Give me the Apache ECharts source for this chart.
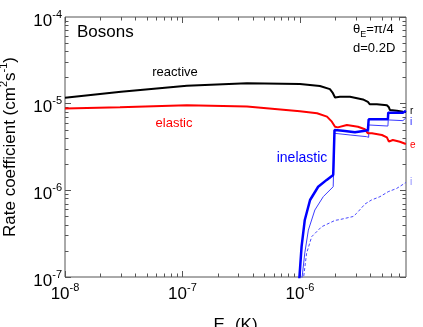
<!DOCTYPE html>
<html>
<head>
    <meta charset="UTF-8">
    <title>Rate coefficient - Bosons</title>
    <script src="https://cdn.jsdelivr.net/npm/echarts@6/dist/echarts.min.js"></script>
</head>
<body style="margin:0">
<div id="main" style="width: 423px;height:327px;"></div>
<script type="text/javascript">
    // 读图得到的数据 (E_c 单位 K, 速率系数 单位 cm^2 s^-1)
    let reactiveE = [1e-8, 3e-8, 1.09e-7, 3.54e-7, 1e-6, 1.48e-6, 1.8e-6, 1.91e-6, 1.99e-6, 2.19e-6, 2.67e-6, 3.44e-6, 3.79e-6, 3.94e-6, 4.52e-6, 5.5e-6, 5.72e-6, 5.83e-6, 6.69e-6, 7.53e-6, 7.98e-6];
    let reactiveK = [1.17e-5, 1.37e-5, 1.61e-5, 1.72e-5, 1.69e-5, 1.60e-5, 1.47e-5, 1.32e-5, 1.18e-5, 1.20e-5, 1.20e-5, 1.12e-5, 1.05e-5, 9.84e-6, 9.84e-6, 9.58e-6, 9.08e-6, 8.46e-6, 8.30e-6, 8.07e-6, 8.0e-6];

    let elasticE = [1e-8, 2.94e-8, 1.09e-7, 3.54e-7, 1e-6, 1.40e-6, 1.70e-6, 1.87e-6, 1.99e-6, 2.10e-6, 2.51e-6, 3.12e-6, 3.58e-6, 3.79e-6, 4.10e-6, 4.99e-6, 5.50e-6, 5.72e-6, 6.18e-6, 7.10e-6, 7.98e-6];
    let elasticK = [8.79e-6, 9.08e-6, 9.58e-6, 9.3e-6, 8.16e-6, 7.74e-6, 7.08e-6, 6.20e-6, 5.42e-6, 5.33e-6, 5.67e-6, 5.42e-6, 5.06e-6, 4.55e-6, 4.55e-6, 4.35e-6, 4.09e-6, 3.64e-6, 3.81e-6, 3.64e-6, 3.43e-6];

    let inelasticE = [0.985e-6, 1.033e-6, 1.10e-6, 1.22e-6, 1.43e-6, 1.69e-6, 1.92e-6, 1.97e-6, 1.97e-6, 2.32e-6, 2.94e-6, 3.58e-6, 3.79e-6, 3.85e-6, 3.85e-6, 5.61e-6, 5.65e-6, 5.65e-6, 7.53e-6, 7.98e-6];
    let inelasticK = [0.9e-7, 2.24e-7, 4.55e-7, 7.74e-7, 1.10e-6, 1.32e-6, 1.50e-6, 1.53e-6, 4.97e-6, 4.88e-6, 4.67e-6, 4.88e-6, 4.97e-6, 4.97e-6, 6.61e-6, 6.61e-6, 6.61e-6, 7.87e-6, 7.87e-6, 8.3e-6];

    let thinE = [1.035e-6, 1.10e-6, 1.18e-6, 1.34e-6, 1.58e-6, 1.92e-6, 1.97e-6, 1.97e-6, 2.67e-6, 3.70e-6, 3.85e-6, 3.85e-6, 5.61e-6, 5.65e-6, 5.65e-6, 7.53e-6, 7.98e-6];
    let thinK = [0.9e-7, 1.89e-7, 3.48e-7, 5.93e-7, 8.45e-7, 1.10e-6, 1.12e-6, 4.55e-6, 4.35e-6, 4.16e-6, 4.09e-6, 5.68e-6, 5.52e-6, 5.5e-6, 6.49e-6, 6.37e-6, 6.84e-6];

    let dashedE = [1.065e-6, 1.14e-6, 1.26e-6, 1.53e-6, 1.99e-6, 2.19e-6, 2.84e-6, 3.04e-6, 3.58e-6, 4.07e-6, 4.80e-6, 5.64e-6, 6.65e-6, 7.98e-6];
    let dashedK = [0.9e-7, 1.88e-7, 2.92e-7, 3.80e-7, 4.5e-7, 4.6e-7, 4.99e-7, 5.43e-7, 6.95e-7, 7.74e-7, 8.45e-7, 9.64e-7, 1.05e-6, 1.23e-6];

    // 坐标轴范围与刻度 (对数轴, 主刻度 + 2..9 次刻度)
    let xMin = 1e-8, xMax = 8e-6;
    let yMin = 1e-7, yMax = 1e-4;
    let xMajor = [1e-8, 1e-7, 1e-6];
    let yMajor = [1e-7, 1e-6, 1e-5, 1e-4];
    let xMinor = [];
    let yMinor = [];
    [-8, -7, -6].forEach(n => {
        for (let k = 2; k <= 9; k++) {
            let v = k * Math.pow(10, n);
            if (v < xMax * 0.999) xMinor.push(v);
        }
    });
    [-7, -6, -5].forEach(n => {
        for (let k = 2; k <= 9; k++) yMinor.push(k * Math.pow(10, n));
    });

    const FONT = 'Liberation Sans';
    const TICK_COLOR = '#555';

    function pairs(xs, ys) {
        return xs.map((x, i) => [x, ys[i]]);
    }

    function powLabel(value) {
        let l = Math.log10(value);
        let e = Math.round(l);
        if (Math.abs(l - e) > 1e-6) return '';
        return '10{sup|' + e + '}';
    }

    let labelRich = {
        sup: {fontSize: 11, lineHeight: 11, verticalAlign: 'top', fontFamily: FONT, color: '#000'}
    };

    // 只画刻度的辅助轴 (上下左右, 朝内)
    function tickAxis(min, max, pos, vals, len) {
        return {
            type: 'log', min: min, max: max, position: pos,
            axisLine: {show: false},
            splitLine: {show: false},
            axisLabel: {show: false},
            axisTick: {show: true, inside: true, length: len, customValues: vals, lineStyle: {color: TICK_COLOR}}
        };
    }

    var myChart = echarts.init(document.getElementById('main'));

    let option = {
        animation: false,
        grid: {
            left: 65, right: 17, top: 17, bottom: 50,
            show: true, borderColor: TICK_COLOR, borderWidth: 1,
            outerBoundsMode: 'none'
        },
        xAxis: [
            {
                type: 'log', min: xMin, max: xMax, position: 'bottom',
                name: 'E{sub|c} (K)',
                nameLocation: 'middle', nameGap: 22,
                nameTextStyle: {
                    fontSize: 17, fontFamily: FONT, color: '#000', lineHeight: 28,
                    rich: {sub: {fontSize: 11, lineHeight: 11, verticalAlign: 'bottom', fontFamily: FONT, color: '#000'}}
                },
                axisLine: {show: false},
                splitLine: {show: false},
                axisTick: {show: true, inside: true, length: 6, customValues: xMajor, lineStyle: {color: TICK_COLOR}},
                axisLabel: {
                    formatter: powLabel, margin: 5,
                    fontSize: 17, fontFamily: FONT, color: '#000', lineHeight: 24,
                    rich: labelRich
                }
            },
            tickAxis(xMin, xMax, 'bottom', xMinor, 3.5),
            tickAxis(xMin, xMax, 'top', xMajor, 6),
            tickAxis(xMin, xMax, 'top', xMinor, 3.5)
        ],
        yAxis: [
            {
                type: 'log', min: yMin, max: yMax, position: 'left',
                name: 'Rate coefficient (cm{sup|2}s{sup|-1})',
                nameLocation: 'middle', nameGap: 36, nameRotate: 90,
                nameTextStyle: {
                    fontSize: 17, fontFamily: FONT, color: '#000', lineHeight: 24,
                    rich: labelRich
                },
                axisLine: {show: false},
                splitLine: {show: false},
                axisTick: {show: true, inside: true, length: 6, customValues: yMajor, lineStyle: {color: TICK_COLOR}},
                axisLabel: {
                    formatter: powLabel, margin: 3,
                    fontSize: 17, fontFamily: FONT, color: '#000', lineHeight: 24,
                    padding: [8, 0, 0, 0],
                    rich: labelRich
                }
            },
            tickAxis(yMin, yMax, 'left', yMinor, 3.5),
            tickAxis(yMin, yMax, 'right', yMajor, 6),
            tickAxis(yMin, yMax, 'right', yMinor, 3.5)
        ],
        graphic: [
            {type: 'text', x: 77, y: 32, style: {text: 'Bosons', font: '17px ' + FONT, fill: '#000', align: 'left', verticalAlign: 'middle'}},
            {type: 'text', x: 175, y: 72, style: {text: 'reactive', font: '13px ' + FONT, fill: '#000', align: 'center', verticalAlign: 'middle'}},
            {type: 'text', x: 174, y: 123, style: {text: 'elastic', font: '13px ' + FONT, fill: '#ff0000', align: 'center', verticalAlign: 'middle'}},
            {type: 'text', x: 302, y: 158, style: {text: 'inelastic', font: '14px ' + FONT, fill: '#0000ff', align: 'center', verticalAlign: 'middle'}},
            {
                type: 'text', x: 353, y: 29, style: {
                    text: 'θ{sub|E}=π/4', font: '13px ' + FONT, fill: '#000', align: 'left', verticalAlign: 'middle',
                    lineHeight: 20,
                    rich: {sub: {fontSize: 9, lineHeight: 9, verticalAlign: 'bottom', fontFamily: FONT, fill: '#000'}}
                }
            },
            {type: 'text', x: 353, y: 48, style: {text: 'd=0.2D', font: '13px ' + FONT, fill: '#000', align: 'left', verticalAlign: 'middle'}},
            {type: 'text', x: 410, y: 111, style: {text: 'r', font: '10px ' + FONT, fill: '#000', align: 'left', verticalAlign: 'middle'}},
            {type: 'text', x: 410, y: 122, style: {text: 'i', font: '10px ' + FONT, fill: '#2020ff', align: 'left', verticalAlign: 'middle'}},
            {type: 'text', x: 410, y: 145, style: {text: 'e', font: '10px ' + FONT, fill: '#ff0000', align: 'left', verticalAlign: 'middle'}},
            {type: 'text', x: 410, y: 182, style: {text: 'i', font: '10px ' + FONT, fill: '#8a8aff', align: 'left', verticalAlign: 'middle'}}
        ],
        series: [
            {
                name: 'dashed', type: 'line', showSymbol: false, clip: true,
                lineStyle: {color: '#4848ff', width: 1, type: [3, 2]},
                data: pairs(dashedE, dashedK)
            },
            {
                name: 'thin', type: 'line', showSymbol: false, clip: true,
                lineStyle: {color: '#3c3cff', width: 1},
                data: pairs(thinE, thinK)
            },
            {
                name: 'elastic', type: 'line', showSymbol: false, clip: true,
                lineStyle: {color: '#ff0000', width: 2},
                data: pairs(elasticE, elasticK)
            },
            {
                name: 'reactive', type: 'line', showSymbol: false, clip: true,
                lineStyle: {color: '#000000', width: 2},
                data: pairs(reactiveE, reactiveK)
            },
            {
                name: 'inelastic', type: 'line', showSymbol: false, clip: true,
                lineStyle: {color: '#0000ff', width: 2.5},
                data: pairs(inelasticE, inelasticK)
            }
        ]
    };

    myChart.setOption(option);
</script>
</body>
</html>
